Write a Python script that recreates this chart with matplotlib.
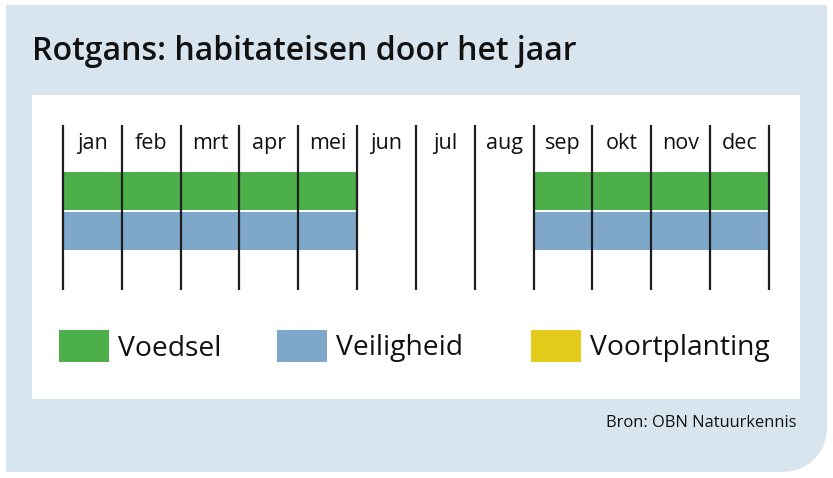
import matplotlib
matplotlib.use("Agg")
import matplotlib.pyplot as plt
from matplotlib.path import Path
from matplotlib.patches import PathPatch, Rectangle
import numpy as np

plt.rcParams['font.family'] = ['Open Sans', 'DejaVu Sans']

# ---- data ----
months = ["jan", "feb", "mrt", "apr", "mei", "jun", "jul", "aug", "sep", "okt", "nov", "dec"]
series_names = ["Voedsel", "Veiligheid", "Voortplanting"]
voedsel = [1, 1, 1, 1, 1, 0, 0, 0, 1, 1, 1, 1]
veiligheid = [1, 1, 1, 1, 1, 0, 0, 0, 1, 1, 1, 1]
voortplanting = [0, 0, 0, 0, 0, 0, 0, 0, 0, 0, 0, 0]
title = "Rotgans: habitateisen door het jaar"
source = "Bron: OBN Natuurkennis"

colors = ["#4caf4a", "#7fa7c9", "#e3cb1a"]
bg_color = "#d8e4ee"
line_color = "#1e1e1e"
text_color = "#111111"

W, H = 833, 478
fig = plt.figure(figsize=(W / 100, H / 100), dpi=100)

# ---- background axes in pixel coordinates ----
bg = fig.add_axes([0, 0, 1, 1])
bg.set_xlim(0, W)
bg.set_ylim(H, 0)
bg.axis("off")

x0, y0, x1, y1, r = 6, 5, 827, 472, 44
theta = np.linspace(0, np.pi / 2, 30)
arc = [(x1 - r + r * np.cos(t), y1 - r + r * np.sin(t)) for t in theta]
verts = [(x0, y0), (x1, y0)] + arc + [(x0, y1), (x0, y0)]
codes = [Path.MOVETO] + [Path.LINETO] * (len(verts) - 2) + [Path.CLOSEPOLY]
bg.add_patch(PathPatch(Path(verts, codes), facecolor=bg_color, edgecolor="none"))
bg.add_patch(Rectangle((32, 95), 800 - 32, 399 - 95, facecolor="white", edgecolor="none"))

bg.text(32, 51, title, fontsize=23, fontweight="semibold", color=text_color,
        ha="left", va="center")
bg.text(797, 423, source, fontsize=11.9, color=text_color, ha="right", va="center")

# legend (manual)
leg_x = [59, 277, 531]
for name, c, lx in zip(series_names, colors, leg_x):
    bg.add_patch(Rectangle((lx, 329.5), 50, 32, facecolor=c, edgecolor="none"))
    bg.text(lx + 59, 348.5, name, fontsize=20.3, color=text_color, ha="left", va="center")

# ---- chart axes ----
px_left, px_right = 63, 769
px_top, px_bot = 100, 300
ax = fig.add_axes([px_left / W, 1 - px_bot / H, (px_right - px_left) / W, (px_bot - px_top) / H])
ax.axis("off")
ax.set_xlim(0, 12)
row_px = 40.0
center0 = 191.0
ax.set_ylim((px_bot - center0) / row_px, (px_top - center0) / row_px)

rows = [voedsel, veiligheid, voortplanting]
for i, (vals, c) in enumerate(zip(rows[:2], colors[:2])):
    lefts = [m for m, v in enumerate(vals) if v]
    ax.barh([i] * len(lefts), [1] * len(lefts), left=lefts, height=0.95,
            color=c, edgecolor="none", zorder=1)

line_top = (125 - center0) / row_px
line_bot = (290 - center0) / row_px
ax.vlines(np.arange(0, 13), line_top, line_bot, color=line_color, linewidth=1.6,
          zorder=3, clip_on=False)

label_y = (143.5 - center0) / row_px
for m, name in enumerate(months):
    ax.text(m + 0.5, label_y, name, fontsize=15.5, color=text_color, ha="center", va="center")

fig.savefig("out.png", dpi=100)
